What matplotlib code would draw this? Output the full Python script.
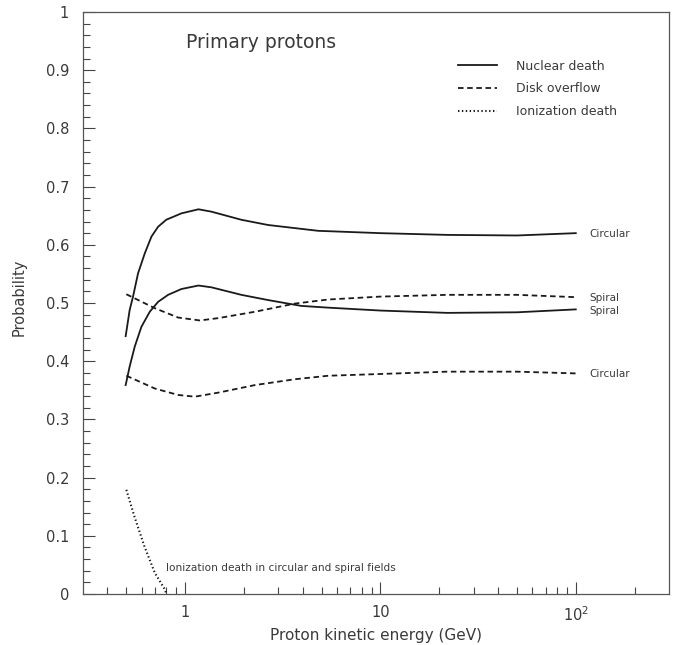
import matplotlib
matplotlib.use('Agg')
import matplotlib.pyplot as plt
from matplotlib.ticker import FixedLocator, FixedFormatter, MultipleLocator

plt.rcParams['font.family'] = ['DejaVu Sans']
plt.rcParams['mathtext.default'] = 'regular'
plt.rcParams['lines.scale_dashes'] = False

# nuclear death, circular field
e_nuc_circ = [0.496, 0.52, 0.541, 0.574, 0.621, 0.672, 0.727, 0.80, 0.957, 1.17, 1.36, 1.94, 2.66, 4.8, 10, 22, 50, 100]
p_nuc_circ = [0.443, 0.488, 0.511, 0.551, 0.585, 0.614, 0.631, 0.643, 0.654, 0.661, 0.657, 0.643, 0.634, 0.624, 0.620, 0.617, 0.616, 0.620]

# nuclear death, spiral field
e_nuc_spir = [0.496, 0.52, 0.552, 0.597, 0.659, 0.727, 0.818, 0.957, 1.17, 1.36, 1.94, 2.66, 3.93, 5.4, 10, 22, 50, 100]
p_nuc_spir = [0.359, 0.391, 0.425, 0.459, 0.485, 0.502, 0.514, 0.524, 0.530, 0.527, 0.514, 0.505, 0.495, 0.492, 0.487, 0.483, 0.484, 0.489]

# disk overflow, spiral field
e_disk_spir = [0.5, 0.7, 0.92, 1.19, 1.48, 2.28, 3.65, 5.41, 10, 22, 50, 100]
p_disk_spir = [0.515, 0.491, 0.475, 0.470, 0.474, 0.485, 0.499, 0.506, 0.511, 0.514, 0.514, 0.510]

# disk overflow, circular field
e_disk_circ = [0.5, 0.7, 0.92, 1.12, 1.48, 2.28, 3.65, 5.41, 10, 22, 50, 100]
p_disk_circ = [0.375, 0.353, 0.342, 0.339, 0.346, 0.359, 0.369, 0.375, 0.378, 0.382, 0.382, 0.379]

# ionization death (same for both fields)
e_ion = [0.5, 0.55, 0.62, 0.70, 0.79, 0.80]
p_ion = [0.179, 0.133, 0.081, 0.036, 0.007, 0.0]

end_labels = [('Circular', 0.619), ('Spiral', 0.509), ('Spiral', 0.486), ('Circular', 0.378)]

ink = '#1a1a1a'
txt = '#3a3a3a'
dash = (0, (4.0, 2.6))
dots = (0, (1.0, 1.8))

fig = plt.figure(figsize=(6.76, 6.45), dpi=100)
ax = fig.add_axes([0.1228, 0.0791, 0.8668, 0.9023])

ax.plot(e_nuc_circ, p_nuc_circ, color=ink, lw=1.3, label='Nuclear death')
ax.plot(e_nuc_spir, p_nuc_spir, color=ink, lw=1.3)
ax.plot(e_disk_spir, p_disk_spir, color=ink, lw=1.3, linestyle=dash, label='Disk overflow')
ax.plot(e_disk_circ, p_disk_circ, color=ink, lw=1.3, linestyle=dash)
ax.plot(e_ion, p_ion, color=ink, lw=1.5, linestyle=dots, label='Ionization death')

ax.set_xscale('log')
ax.set_xlim(0.3, 300)
ax.set_ylim(0, 1)

ax.xaxis.set_major_locator(FixedLocator([1, 10, 100]))
ax.xaxis.set_major_formatter(FixedFormatter(['1', '10', '$10^2$']))
minor_x = [0.4, 0.5, 0.6, 0.7, 0.8, 0.9] + list(range(2, 10)) + list(range(20, 100, 10)) + [200]
ax.xaxis.set_minor_locator(FixedLocator(minor_x))
ax.xaxis.set_minor_formatter(FixedFormatter([''] * len(minor_x)))

ax.yaxis.set_major_locator(MultipleLocator(0.1))
ax.yaxis.set_minor_locator(MultipleLocator(0.02))
ax.yaxis.set_major_formatter(lambda v, pos: '%g' % round(v, 2))

ax.tick_params(which='both', direction='in', top=False, right=False, colors='#444444',
               labelcolor=txt, labelsize=10.5)
ax.tick_params(which='major', length=8.5, width=0.8)
ax.tick_params(which='minor', length=5, width=0.8)
ax.tick_params(axis='y', pad=10)
ax.tick_params(axis='x', pad=8)

for s in ax.spines.values():
    s.set_linewidth(0.9)
    s.set_color('#555555')

ax.set_xlabel('Proton kinetic energy (GeV)', fontsize=11, color=txt, labelpad=3)
ax.set_ylabel('Probability', fontsize=10.5, color=txt)
ax.yaxis.set_label_coords(-0.096, 0.51)

ax.text(0.176, 0.948, 'Primary protons', transform=ax.transAxes, fontsize=13.5,
        color=txt, va='center', ha='left')

for name, yv in end_labels:
    ax.text(117, yv, name, fontsize=7.5, color=txt, va='center', ha='left')

ax.text(0.80, 0.045, 'Ionization death in circular and spiral fields', fontsize=7.6,
        color=txt, va='center', ha='left')

leg = ax.legend(loc='upper left', bbox_to_anchor=(0.640, 0.918), frameon=False,
                fontsize=9, handlelength=3.1, handletextpad=1.5, labelspacing=0.78,
                borderpad=0, borderaxespad=0)
for t in leg.get_texts():
    t.set_color(txt)

fig.savefig('out.png', dpi=100)
